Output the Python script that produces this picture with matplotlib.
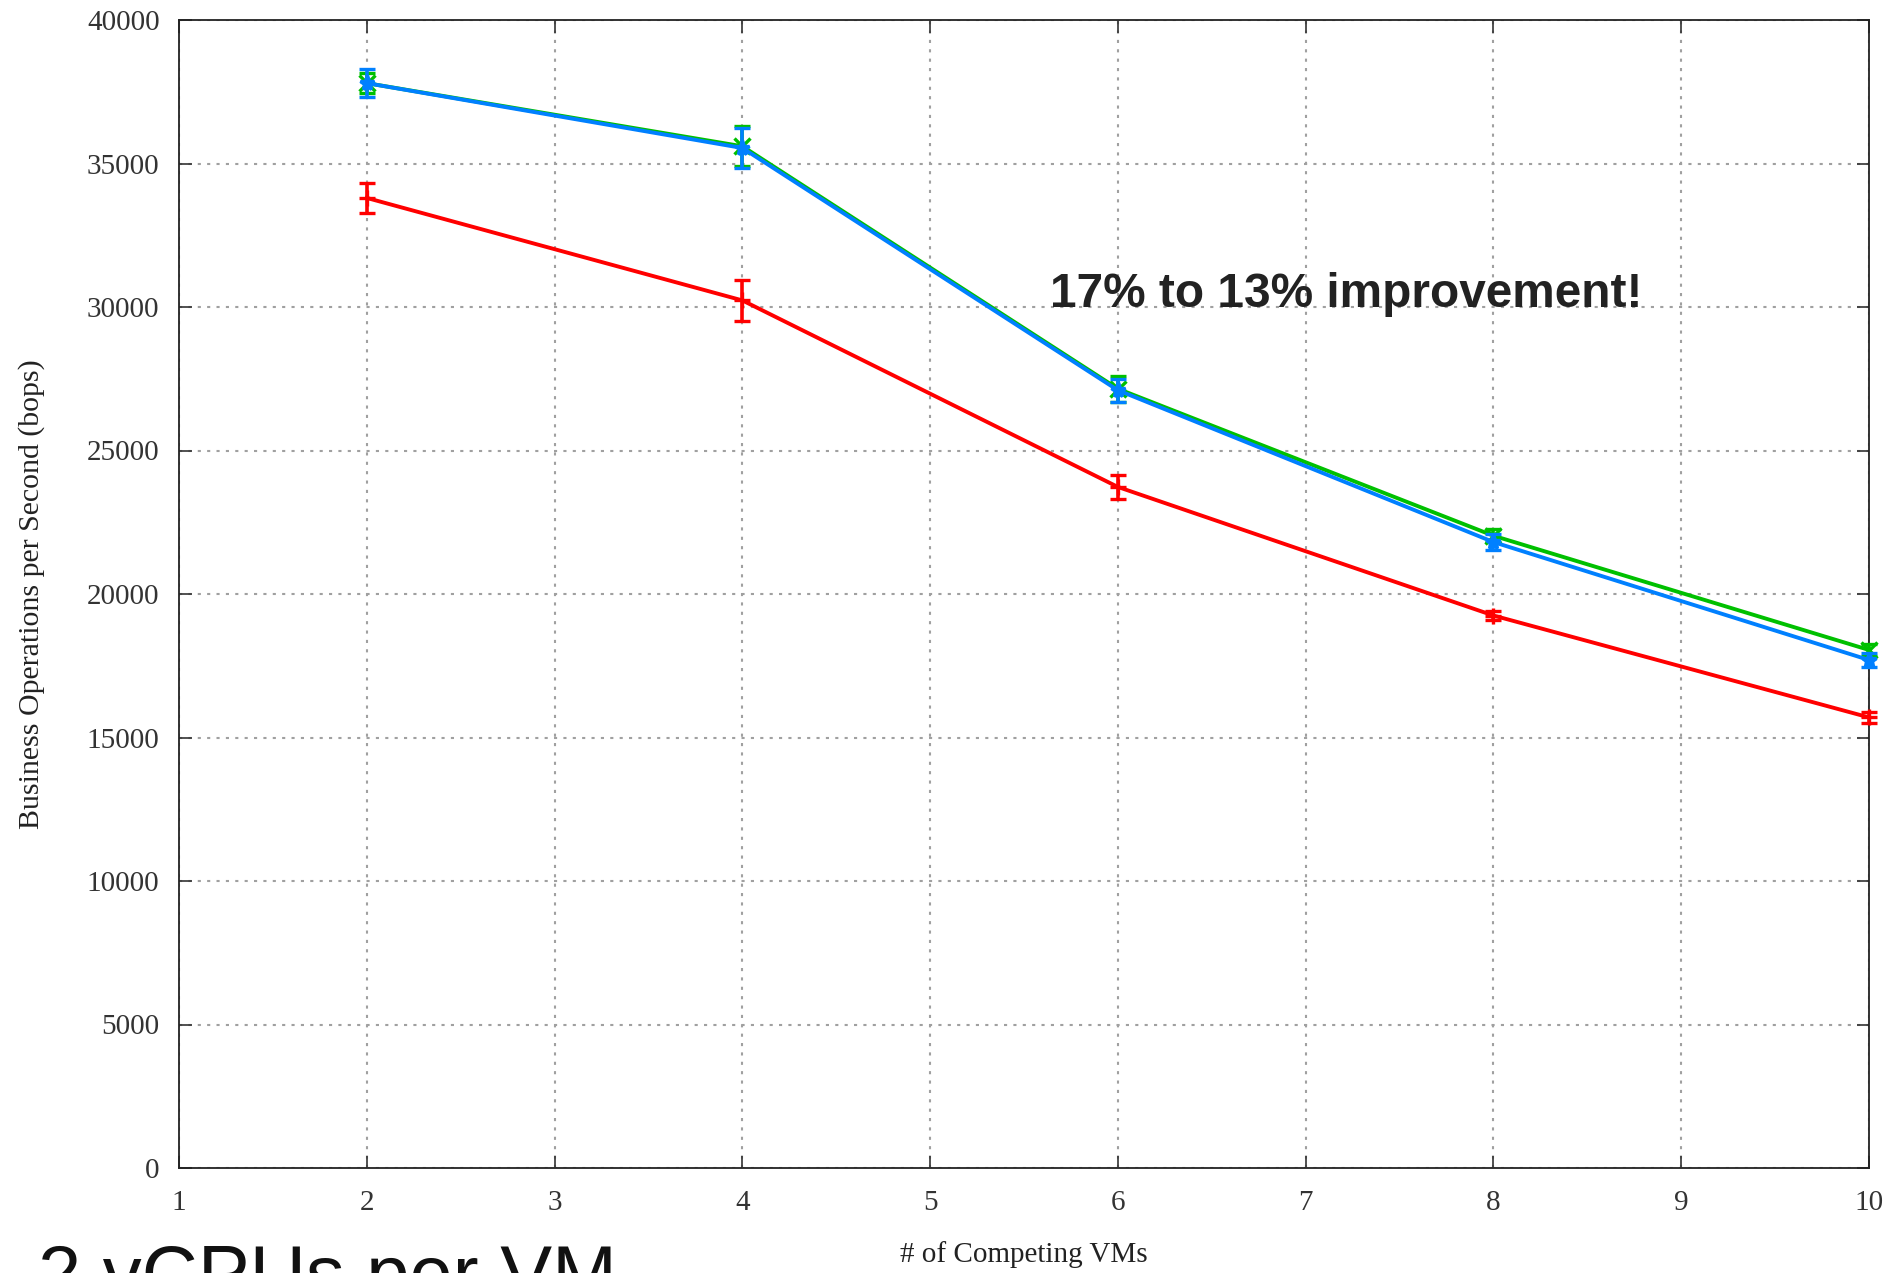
import matplotlib
matplotlib.use('Agg')
import matplotlib.pyplot as plt

# number of competing VMs
vms = [2, 4, 6, 8, 10]

# business operations per second, with error bars
base = [33800, 30230, 23730, 19250, 15700]
base_err = [520, 720, 420, 150, 200]

opt_a = [37800, 35600, 27150, 22030, 18050]
opt_a_err = [340, 700, 450, 230, 200]

opt_b = [37800, 35540, 27100, 21810, 17700]
opt_b_err = [500, 680, 400, 280, 250]

xticks = [1, 2, 3, 4, 5, 6, 7, 8, 9, 10]
yticks = [0, 5000, 10000, 15000, 20000, 25000, 30000, 35000, 40000]

serif = ['Liberation Serif', 'DejaVu Serif']
sans = ['Liberation Sans', 'DejaVu Sans']

fig = plt.figure(figsize=(18.86, 12.73), dpi=100)
ax = fig.add_axes([179/1886, 105/1273, 1690/1886, 1148/1273])

estilo = dict(lw=2.8, capsize=5.5, capthick=2.6, elinewidth=2.6, ms=11, mew=2.4, clip_on=False)
ax.errorbar(vms, base, yerr=base_err, color='#ff0000', marker='+', zorder=3, **estilo)
ax.errorbar(vms, opt_a, yerr=opt_a_err, color='#00c000', marker='x', zorder=4, **estilo)
ax.errorbar(vms, opt_b, yerr=opt_b_err, color='#0080ff', marker='*', zorder=5, **estilo)

ax.set_xlim(1, 10)
ax.set_ylim(0, 40000)
ax.set_xticks(xticks)
ax.set_yticks(yticks)
ax.set_xticklabels([str(v) for v in xticks], family=serif, fontsize=21)
ax.set_yticklabels([str(v) for v in yticks], family=serif, fontsize=21)
ax.tick_params(direction='in', length=9, width=1.2, top=True, right=True,
               colors='#333333', pad=14)
ax.tick_params(axis='x', pad=16)

ax.grid(True, color='#a0a0a0', linestyle=(0, (1.5, 3)), linewidth=1.5)
for s in ax.spines.values():
    s.set_color('#222222')
    s.set_linewidth(1.3)

ax.set_xlabel('# of Competing VMs', family=serif, fontsize=21, labelpad=18, color='#222222')
ax.set_ylabel('Business Operations per Second (bops)', family=serif, fontsize=21.5,
              labelpad=30, color='#222222')

ax.text(5.64, 30450, '17% to 13% improvement!', family=sans, fontweight='bold',
        fontsize=34.4, va='center', ha='left', color='#222222')

fig.text(38/1886, -27/1273, '2 vCPUs per VM', family=sans, fontsize=56,
         va='baseline', ha='left', color='#111111')

fig.savefig('out.png', dpi=100)
